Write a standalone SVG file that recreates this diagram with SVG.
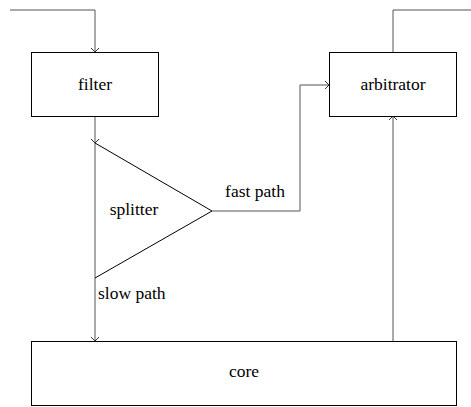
<svg xmlns="http://www.w3.org/2000/svg" width="471" height="407" viewBox="0 0 471 407">
<style>
.box{fill:#fff;stroke:#000;stroke-width:1}
.lbl{font-family:"Liberation Serif","Times New Roman",serif;font-size:17.5px;fill:#000}
.c{fill:none;stroke:#555;stroke-width:1}
.tri{fill:none;stroke:#000;stroke-width:1}
</style>
<defs>
<marker id="arr" viewBox="0 0 10 10" refX="10" refY="5" markerWidth="10" markerHeight="10" markerUnits="userSpaceOnUse" orient="auto">
<path d="M6,1 L10,5 L6,9" fill="none" stroke="#333" stroke-width="1"/>
</marker>
</defs>
<rect width="471" height="407" fill="#fff"/>
<g id="connectors">
<path class="c" d="M10,10 H95 V52" marker-end="url(#arr)"/>
<path class="c" d="M95,116 V143" marker-end="url(#arr)"/>
<path class="c" d="M95,143 V341" marker-end="url(#arr)"/>
<path class="c" d="M212,211 H300 V85 H329" marker-end="url(#arr)"/>
<path class="c" d="M393,341 V116" marker-end="url(#arr)"/>
<path class="c" d="M393,52 V10 H471"/>
<text class="lbl" x="255" y="197" text-anchor="middle">fast path</text>
<text class="lbl" x="98" y="299">slow path</text>
</g>
<g id="filter">
<rect class="box" x="31.5" y="52.5" width="127" height="64"/>
<text class="lbl" x="95" y="90" text-anchor="middle">filter</text>
</g>
<g id="arbitrator">
<rect class="box" x="329.5" y="52.5" width="127" height="64"/>
<text class="lbl" x="393" y="90" text-anchor="middle">arbitrator</text>
</g>
<g id="splitter">
<path class="tri" d="M95,143 L212,211 L95,278"/>
<text class="lbl" x="134" y="215" text-anchor="middle">splitter</text>
</g>
<g id="core">
<rect class="box" x="31.5" y="341.5" width="425" height="64"/>
<text class="lbl" x="244" y="377" text-anchor="middle">core</text>
</g>
</svg>
